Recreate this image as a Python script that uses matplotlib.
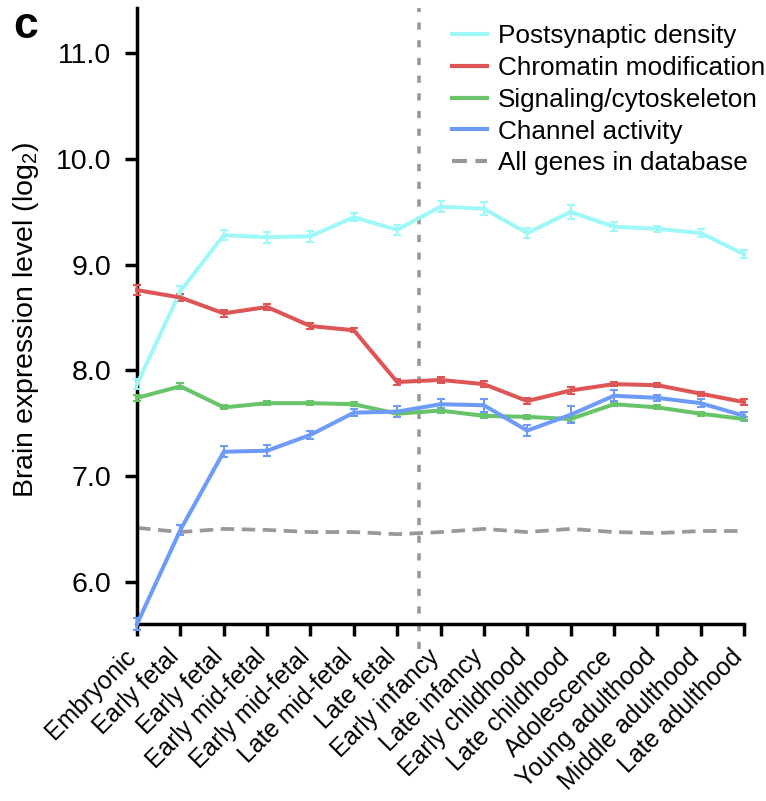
import matplotlib
matplotlib.use("Agg")
import matplotlib.pyplot as plt
from matplotlib.lines import Line2D
import numpy as np

plt.rcParams.update({
    'font.family': ['Liberation Sans', 'DejaVu Sans'],
    'font.size': 17,
    'mathtext.fontset': 'custom',
    'mathtext.rm': 'Liberation Sans',
    'mathtext.it': 'Liberation Sans:italic',
    'mathtext.bf': 'Liberation Sans:bold',
})

stages = ["Embryonic", "Early fetal", "Early fetal", "Early mid-fetal",
          "Early mid-fetal", "Late mid-fetal", "Late fetal", "Early infancy",
          "Late infancy", "Early childhood", "Late childhood", "Adolescence",
          "Young adulthood", "Middle adulthood", "Late adulthood"]

postsynaptic = [7.87, 8.75, 9.28, 9.26, 9.27, 9.45, 9.33, 9.55, 9.53, 9.30,
                9.50, 9.36, 9.34, 9.30, 9.10]
postsynaptic_err = [0.05, 0.05, 0.05, 0.05, 0.05, 0.04, 0.05, 0.05, 0.06, 0.05,
                    0.07, 0.04, 0.03, 0.04, 0.04]
chromatin = [8.76, 8.69, 8.54, 8.60, 8.42, 8.38, 7.89, 7.91, 7.87, 7.71,
             7.81, 7.87, 7.86, 7.78, 7.70]
chromatin_err = [0.05, 0.03, 0.03, 0.03, 0.03, 0.02, 0.03, 0.03, 0.03, 0.03,
                 0.03, 0.02, 0.02, 0.02, 0.03]
signaling = [7.74, 7.85, 7.65, 7.69, 7.69, 7.68, 7.59, 7.62, 7.57, 7.56,
             7.54, 7.68, 7.65, 7.59, 7.54]
signaling_err = [0.03, 0.03, 0.02, 0.02, 0.02, 0.02, 0.03, 0.02, 0.02, 0.02,
                 0.03, 0.02, 0.02, 0.02, 0.02]
channel = [5.60, 6.49, 7.23, 7.24, 7.39, 7.60, 7.61, 7.68, 7.67, 7.43,
           7.58, 7.76, 7.74, 7.69, 7.57]
channel_err = [0.06, 0.05, 0.05, 0.05, 0.04, 0.03, 0.05, 0.05, 0.06, 0.05,
               0.08, 0.05, 0.03, 0.04, 0.04]
all_genes = [6.51, 6.47, 6.50, 6.49, 6.47, 6.47, 6.45, 6.47, 6.50, 6.47,
             6.50, 6.47, 6.46, 6.48, 6.48]

series = [
    ("Postsynaptic density", postsynaptic, postsynaptic_err, "#9ff8f8"),
    ("Chromatin modification", chromatin, chromatin_err, "#dd5555"),
    ("Signaling/cytoskeleton", signaling, signaling_err, "#68c468"),
    ("Channel activity", channel, channel_err, "#6d9bf7"),
]
gray = "#999999"
dash = (0, (3.6, 2.0))

fig = plt.figure(figsize=(7.66, 8.01), dpi=100)
ax = fig.add_axes([0.1789, 0.221, 0.7924, 0.769])

x = np.arange(len(stages))

# prenatal / postnatal boundary
ax.axvline(6.5, ymin=-0.04, ymax=1.0, color=gray, lw=2.6,
           linestyle=(0, (2.0, 2.9)), clip_on=False, zorder=1)

ax.plot(x, all_genes, color=gray, lw=2.7, linestyle=dash, zorder=2)

for name, vals, err, col in series:
    ax.errorbar(x, vals, yerr=err, color=col, lw=2.9, elinewidth=1.5,
                capsize=3, capthick=1.5, clip_on=False, zorder=3)

ax.set_xlim(0, 14)
ax.set_ylim(5.60, 11.43)
ax.set_yticks([6, 7, 8, 9, 10, 11])
ax.set_yticklabels(["6.0", "7.0", "8.0", "9.0", "10.0", "11.0"], fontsize=20.5)
ax.set_xticks(x)
ax.set_xticklabels(stages, rotation=45, ha="right", va="baseline",
                   rotation_mode="anchor", fontsize=17.8)
ax.tick_params(axis="both", direction="out", length=8.6, width=2.5)
ax.tick_params(axis="y", pad=10)
ax.tick_params(axis="x", pad=16)
ax.set_ylabel(r"Brain expression level (log$_2$)", fontsize=20.5)
ax.yaxis.set_label_coords(-0.158, 0.494)

for s in ["top", "right"]:
    ax.spines[s].set_visible(False)
for s in ["left", "bottom"]:
    ax.spines[s].set_linewidth(2.5)

leg_names = [n for n, _, _, _ in series] + ["All genes in database"]
leg_handles = [Line2D([], [], color=c, lw=3) for _, _, _, c in series]
leg_handles.append(Line2D([], [], color=gray, lw=3, linestyle=dash))
ax.legend(leg_handles, leg_names, loc="upper left",
          bbox_to_anchor=(0.519, 0.974), frameon=False, borderpad=0,
          borderaxespad=0, fontsize=18.8, handlelength=1.35,
          handletextpad=0.4, labelspacing=0.3)

fig.text(0.017, 0.953, "c", fontsize=32, fontweight="bold",
         ha="left", va="baseline")

fig.savefig("out.png", dpi=100)
